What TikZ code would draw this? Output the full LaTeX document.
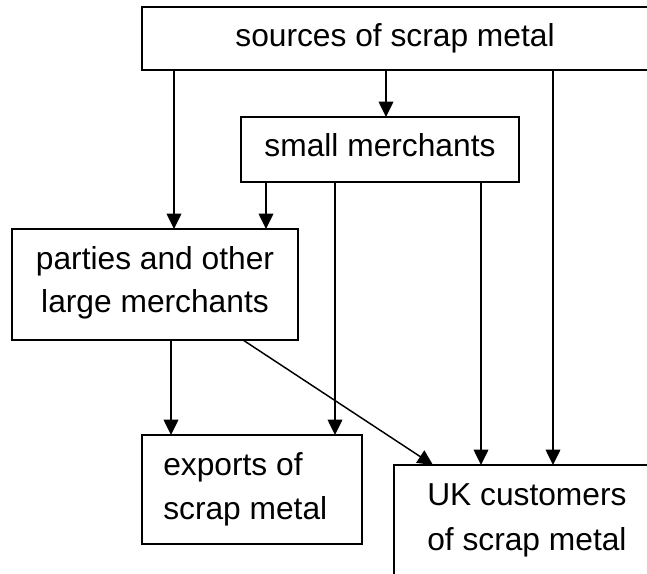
\documentclass[tikz,border=0pt]{standalone}
\usepackage{fontspec}
\setmainfont{Liberation Sans}
\usetikzlibrary{arrows.meta}
\begin{document}
\begin{tikzpicture}[x=0.75pt,y=-0.75pt,
  box/.style={draw,line width=1.4pt,rectangle,inner sep=0pt,outer sep=0pt},
  lbl/.style={inner sep=0pt,font=\fontsize{23.8}{33}\selectfont},
  arr/.style={line width=1.1pt,-{Triangle[length=11.5pt,width=11pt]}}]
\clip (0,0) rectangle (647,574);
\fill[white] (0,0) rectangle (647,574);
\node[box,minimum width=403.5pt,minimum height=47.25pt] (top) at (411,38.5) {};
\node[box,minimum width=208.5pt,minimum height=48.75pt] (small) at (380,149.5) {};
\node[box,minimum width=214.5pt,minimum height=83.25pt] (parties) at (155,284.5) {};
\node[box,minimum width=165pt,minimum height=81.75pt] (exports) at (252,489.5) {};
\node[box,minimum width=214.5pt,minimum height=116.25pt] (uk) at (537,542.5) {};
\node[lbl,anchor=base] (ttop) at (395,47) {sources of scrap metal};
\node[lbl,anchor=base] (tsmall) at (380,157) {small merchants};
\node[lbl,anchor=base] (tpa1) at (155,270) {parties and other};
\node[lbl,anchor=base] (tpa2) at (155,313) {large merchants};
\node[lbl,anchor=base west] (tex1) at (163,475) {exports of};
\node[lbl,anchor=base west] (tex2) at (163,519) {scrap metal};
\node[lbl,anchor=base west] (tuk1) at (427,505) {UK customers};
\node[lbl,anchor=base west] (tuk2) at (427,550) {of scrap metal};
\draw[arr] (top.south -| 386,0) -- (small.north -| 386,0);
\draw[arr] (top.south -| 174,0) -- (parties.north -| 174,0);
\draw[arr] (top.south -| 553,0) -- (uk.north -| 553,0);
\draw[arr] (small.south -| 266,0) -- (parties.north -| 266,0);
\draw[arr] (small.south -| 335,0) -- (exports.north -| 335,0);
\draw[arr] (small.south -| 481,0) -- (uk.north -| 481,0);
\draw[arr] (parties.south -| 171,0) -- (exports.north -| 171,0);
\draw[arr] (parties.south -| 243,0) -- (uk.north -| 433,0);
\end{tikzpicture}
\end{document}
